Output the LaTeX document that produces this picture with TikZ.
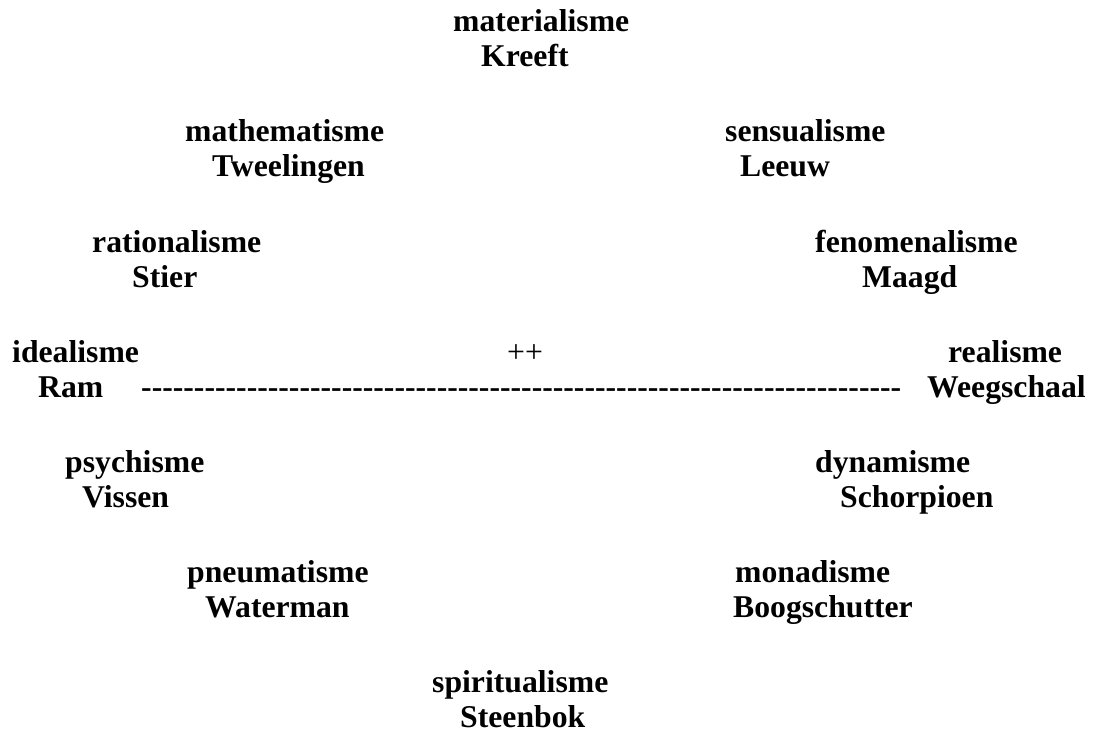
\documentclass[tikz,border=0pt]{standalone}
\usepackage{fontspec}
\setmainfont{Liberation Serif}

\begin{document}
\begin{tikzpicture}[x=1pt, y=-1pt,
  every node/.style={inner sep=0pt, anchor=base west, font=\fontsize{31.7pt}{35pt}\selectfont\bfseries}]
\useasboundingbox (0,0) rectangle (1096,733);

\node (materialisme) at (453,32) {materialisme};
\node (kreeft) at (481,67) {Kreeft};

\node (mathematisme) at (185,142) {mathematisme};
\node (tweelingen) at (212,177) {Tweelingen};
\node (sensualisme) at (725,142) {sensualisme};
\node (leeuw) at (740,177) {Leeuw};

\node (rationalisme) at (92,252) {rationalisme};
\node (stier) at (132,287) {Stier};
\node (fenomenalisme) at (815,252) {fenomenalisme};
\node (maagd) at (862,287) {Maagd};

\node (idealisme) at (12,362) {idealisme};
\node (ram) at (38,397) {Ram};
\node[font=\fontsize{31.7pt}{35pt}\selectfont] (plusplus) at (507,362) {++};
\node (streep) at (141,397) {\foreach \i in {1,...,72}{-\kern0pt}};
\node (realisme) at (948,362) {realisme};
\node (weegschaal) at (927,397) {Weegschaal};

\node (psychisme) at (65,472) {psychisme};
\node (vissen) at (82,507) {Vissen};
\node (dynamisme) at (815,472) {dynamisme};
\node (schorpioen) at (840,507) {Schorpioen};

\node (pneumatisme) at (187,582) {pneumatisme};
\node (waterman) at (205,617) {Waterman};
\node (monadisme) at (735,582) {monadisme};
\node (boogschutter) at (733,617) {Boogschutter};

\node (spiritualisme) at (432,692) {spiritualisme};
\node (steenbok) at (460,727) {Steenbok};
\end{tikzpicture}
\end{document}
